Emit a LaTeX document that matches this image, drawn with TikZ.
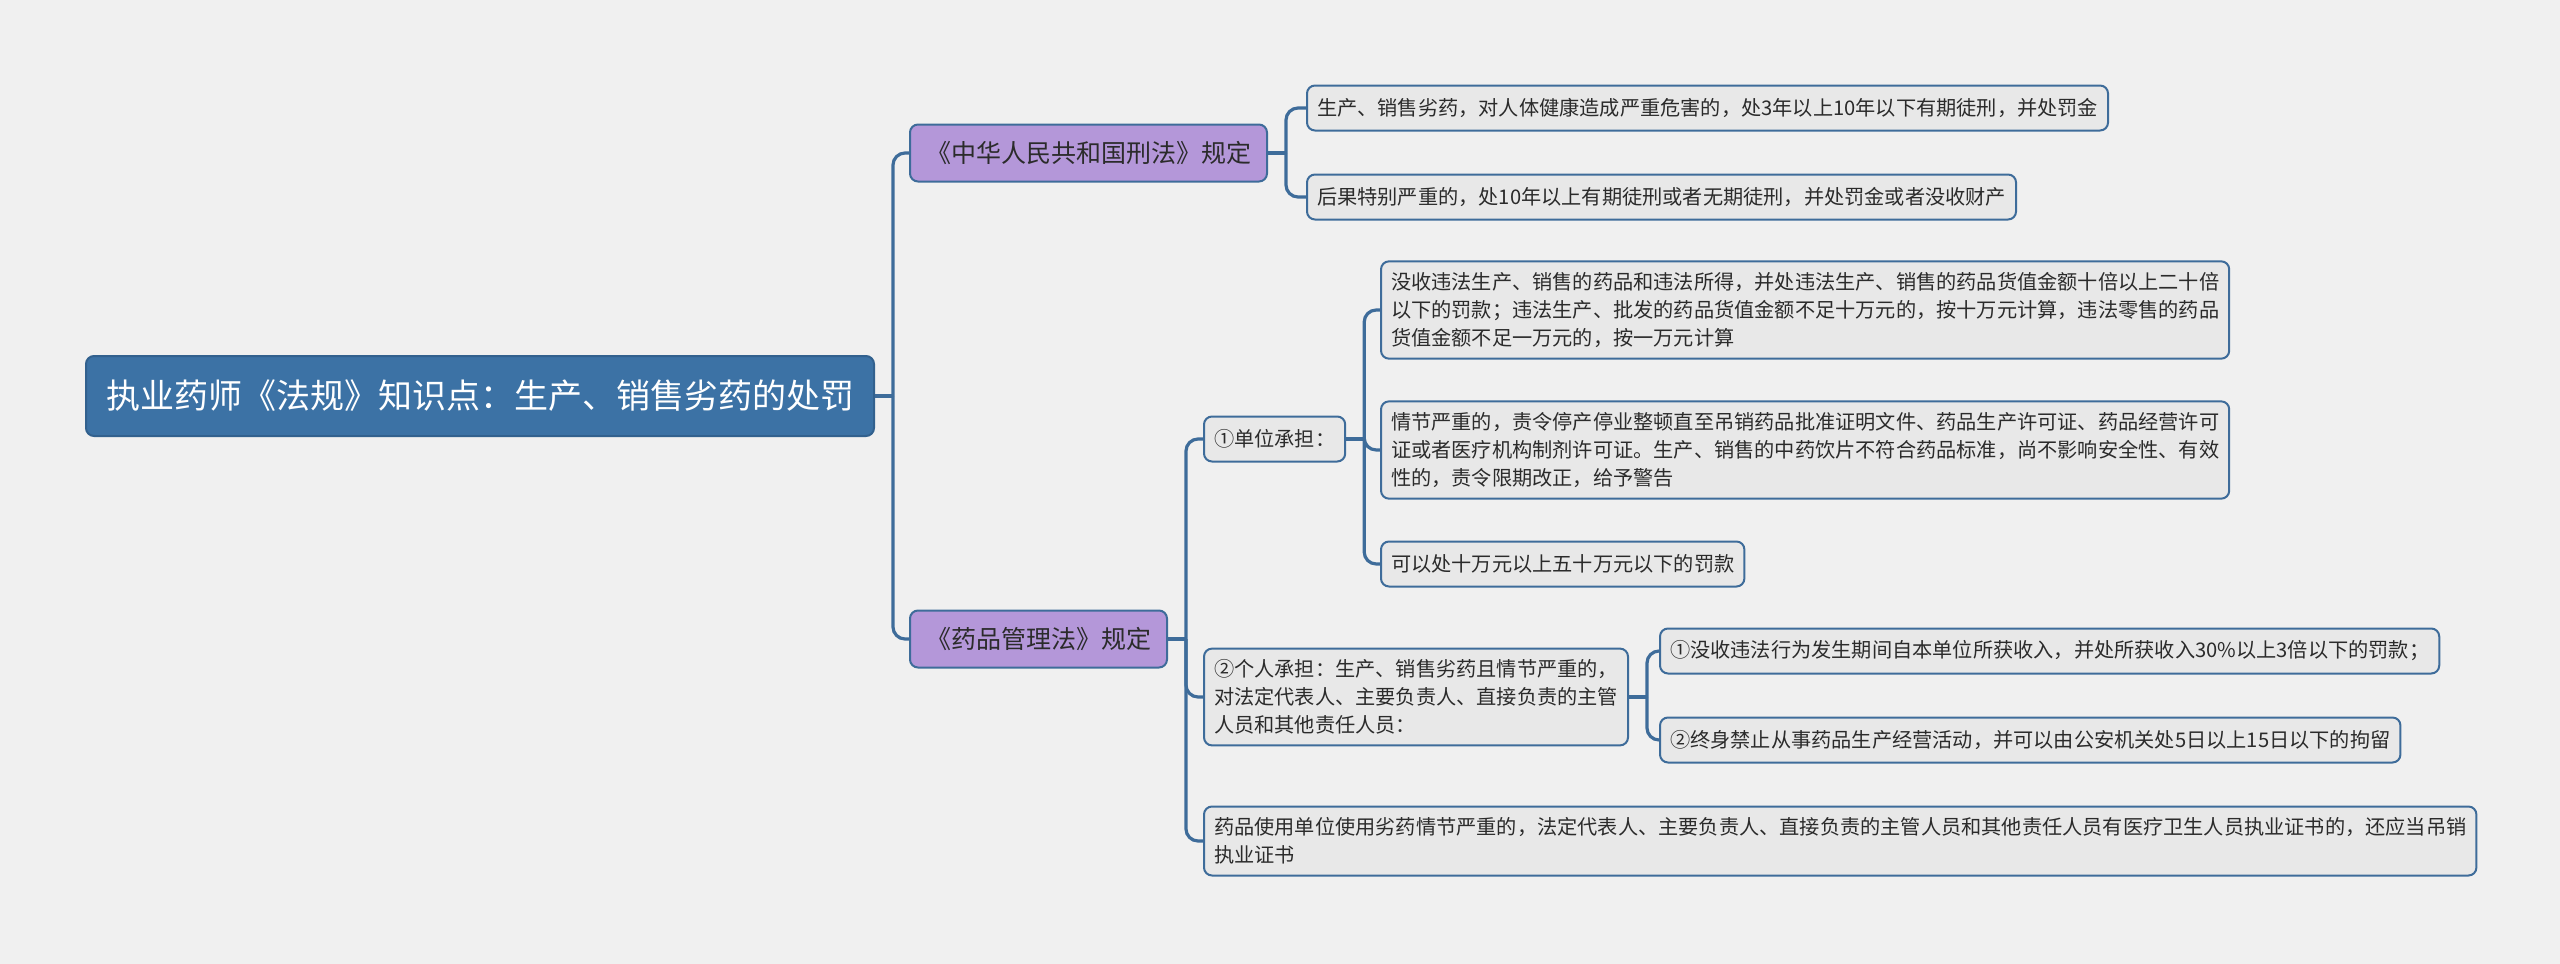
\documentclass[tikz,border=0pt]{standalone}
\usepackage{fontspec}
\setmainfont{Noto Sans CJK SC}
\usepackage{xcolor}
\usepackage{tikz}
\usetikzlibrary{positioning}
\definecolor{bgcol}{HTML}{F0F0F0}
\definecolor{rootcol}{HTML}{3C72A5}
\definecolor{rootline}{HTML}{32618E}
\definecolor{lawcol}{HTML}{B497D9}
\definecolor{leafcol}{HTML}{E8E8E8}
\definecolor{edgecol}{HTML}{3E6C9A}
\definecolor{inkcol}{HTML}{2B2B2B}

\begin{document}
\begin{tikzpicture}[x=0.5pt, y=-0.5pt,
    rootbox/.style={draw=rootline, line width=1pt, fill=rootcol, rounded corners=4pt, text=white,
      font=\fontsize{17pt}{20pt}\selectfont, minimum height=40pt, inner xsep=10pt, anchor=west},
    lawbox/.style={draw=edgecol, line width=1pt, fill=lawcol, rounded corners=4pt, text=inkcol,
      font=\fontsize{12.5pt}{15pt}\selectfont, minimum height=28.5pt, inner xsep=8pt, anchor=west},
    leafbox/.style={draw=edgecol, line width=1pt, fill=leafcol, rounded corners=4pt, text=inkcol,
      font=\fontsize{10.1pt}{13.9pt}\selectfont, align=left, minimum height=22.5pt,
      inner xsep=5pt, inner ysep=5.6pt, anchor=west},
    link/.style={draw=edgecol, line width=1.6pt, rounded corners=6pt}]
    % Background
    \fill[bgcol] (0,0) rectangle (2560,964);
    \useasboundingbox (0,0) rectangle (2560,964);
    % Root
    \node[rootbox] (root) at (85,396) {执业药师《法规》知识点：生产、销售劣药的处罚};
    % Level 1
    \node[lawbox] (xingfa) at (909,153) {《中华人民共和国刑法》规定};
    \node[lawbox] (yaofa) at (909,639) {《药品管理法》规定};
    % Criminal law leaves
    \node[leafbox] (xf1) at (1306,108) {生产、销售劣药，对人体健康造成严重危害的，处3年以上10年以下有期徒刑，并处罚金};
    \node[leafbox] (xf2) at (1306,197) {后果特别严重的，处10年以上有期徒刑或者无期徒刑，并处罚金或者没收财产};
    % Drug law branches
    \node[leafbox] (danwei) at (1203,439) {①单位承担：};
    \node[leafbox] (geren) at (1203,697) {②个人承担：生产、销售劣药且情节严重的，\\对法定代表人、主要负责人、直接负责的主管\\人员和其他责任人员：};
    \node[leafbox] (shiyong) at (1203,841) {药品使用单位使用劣药情节严重的，法定代表人、主要负责人、直接负责的主管人员和其他责任人员有医疗卫生人员执业证书的，还应当吊销\\执业证书};
    \node[leafbox] (dw1) at (1380,310) {没收违法生产、销售的药品和违法所得，并处违法生产、销售的药品货值金额十倍以上二十倍\\以下的罚款；违法生产、批发的药品货值金额不足十万元的，按十万元计算，违法零售的药品\\货值金额不足一万元的，按一万元计算};
    \node[leafbox] (dw2) at (1380,450) {情节严重的，责令停产停业整顿直至吊销药品批准证明文件、药品生产许可证、药品经营许可\\证或者医疗机构制剂许可证。生产、销售的中药饮片不符合药品标准，尚不影响安全性、有效\\性的，责令限期改正，给予警告};
    \node[leafbox] (dw3) at (1380,564) {可以处十万元以上五十万元以下的罚款};
    \node[leafbox] (gr1) at (1659,651) {①没收违法行为发生期间自本单位所获收入，并处所获收入30\%以上3倍以下的罚款；};
    \node[leafbox] (gr2) at (1659,740) {②终身禁止从事药品生产经营活动，并可以由公安机关处5日以上15日以下的拘留};
    % Connectors
    \path (root.east) ++(9pt,0) coordinate (rj);
    \path (xingfa.east) ++(9pt,0) coordinate (xj);
    \path (yaofa.east) ++(9pt,0) coordinate (yj);
    \path (danwei.east) ++(9pt,0) coordinate (dj);
    \path (geren.east) ++(9pt,0) coordinate (gj);
    \draw[link] (root.east) -- (rj);
    \draw[link] (xingfa.east) -- (xj);
    \draw[link] (yaofa.east) -- (yj);
    \draw[link] (danwei.east) -- (dj);
    \draw[link] (geren.east) -- (gj);
    \foreach \j/\c in {rj/xingfa, rj/yaofa, xj/xf1, xj/xf2, yj/danwei, yj/geren, yj/shiyong,
                       dj/dw1, dj/dw2, dj/dw3, gj/gr1, gj/gr2}
      {\draw[link] (\j) |- (\c.west);}
\end{tikzpicture}
\end{document}
